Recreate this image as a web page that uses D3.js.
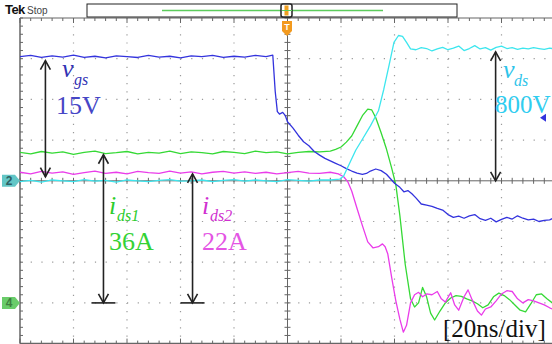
<!DOCTYPE html>
<html>
<head>
<meta charset="utf-8">
<script src="https://d3js.org/d3.v7.min.js"></script>
<style>
  body { margin: 0; background: #fff; }
  svg { display: block; }
</style>
</head>
<body>
<script>
// time in ns (20 ns/div, trigger at 0), level in screen divisions (center = 0)
const preTime = d3.range(-100, 16, 4);   // -100 .. 12
const gateTime = d3.range(-100, -4, 4);  // -100 .. -8

const vgsHigh = [3.05,3.08,3.03,3.07,3.04,3.09,3.03,3.06,3.02,3.07,3.05,3.03,3.08,3.04,3.06,3.02,3.07,3.05,3.08,3.03,3.06,3.04,3.08,3.05];
const vgsFall = [[-5.5,3.09],[-4.6,2.2],[-3.8,1.70],[-3.0,1.64],[-1.8,1.68],[-0.8,1.60],[0,1.45],[2,1.30],[4,1.12],[6,0.96],[8,0.86],[10,0.72],[12,0.63],[14,0.55],[16,0.49],[18,0.43],[20,0.37],[22,0.30],[24,0.24],[26,0.19],[28,0.16],[29.5,0.18],[31,0.24],[33,0.29],[35,0.25],[37,0.16],[38.5,0.05],[40,-0.06],[42,-0.16],[43.5,-0.27],[45,-0.24],[46.5,-0.32],[48,-0.42],[50,-0.57],[52,-0.60],[54,-0.63],[56,-0.68],[58,-0.72],[60,-0.83],[62,-0.90],[64,-0.87],[66,-0.92],[68,-0.86],[70,-0.83],[72,-0.93],[74,-0.97],[76,-0.92],[78,-1.01],[80,-0.95],[82,-0.90],[84,-0.94],[86,-0.86],[88,-0.92],[90,-0.96],[92,-0.94],[94,-1.00],[96,-0.97],[98,-0.96],[100,-0.90]];

const vdsLow = [-0.02,0.01,-0.03,0.02,0.0,-0.02,0.03,-0.01,0.01,-0.03,0.02,0.0,-0.02,0.01,0.03,-0.01,0.0,0.02,-0.02,0.01,0.03,-0.01,0.02,0.0,-0.02,0.03,0.01,-0.01,0.02];
const vdsRise = [[16,0.02],[19.5,0.04],[21,0.12],[23,0.40],[25.5,0.75],[28,1.02],[31,1.35],[34,1.72],[36,2.25],[38,2.85],[39.8,3.40],[41.5,3.57],[43,3.55],[44.5,3.40],[46,3.24],[48,3.22],[50,3.27],[52,3.25],[54,3.19],[56,3.24],[58,3.28],[60,3.22],[62,3.26],[64,3.31],[66,3.20],[68,3.25],[70,3.32],[72,3.24],[74,3.27],[76,3.21],[78,3.28],[80,3.31],[82,3.25],[84,3.27],[86,3.23],[88,3.26],[90,3.24],[92,3.27],[94,3.25],[96,3.23],[98,3.26],[100,3.24]];

const ids1Flat = [0.70,0.66,0.72,0.68,0.71,0.65,0.70,0.73,0.67,0.69,0.72,0.66,0.70,0.68,0.73,0.67,0.71,0.69,0.66,0.72,0.70,0.67,0.73,0.69,0.71,0.66,0.70,0.72,0.71];
const ids1Turn = [[16,0.73],[18,0.77],[20,0.83],[22,0.95],[24,1.10],[26,1.35],[28,1.60],[30,1.76],[31.5,1.74],[33,1.55],[35,1.18],[37,0.78],[39,0.30],[40.5,-0.10],[42,-0.85],[44,-2.05],[46,-2.90],[47.5,-3.10],[49,-3.00],[50.5,-2.62],[52,-2.85],[53.5,-3.25],[55,-3.42],[57,-3.20],[59,-3.00],[61,-2.88],[63,-2.82],[65,-2.84],[67,-2.90],[69,-2.95],[71,-3.02],[73,-3.12],[75,-3.05],[77,-2.85],[79,-2.76],[81,-2.82],[83,-2.92],[85,-3.05],[87,-3.18],[89,-3.22],[91,-3.02],[93,-2.80],[95,-2.78],[97,-2.90],[99,-3.00],[100,-2.98]];

const ids2Flat = [0.21,0.17,0.23,0.19,0.22,0.16,0.20,0.24,0.18,0.21,0.17,0.23,0.20,0.18,0.24,0.19,0.22,0.17,0.21,0.23,0.19,0.22,0.18,0.21,0.17,0.20,0.23,0.19,0.18];
const ids2Turn = [[16,0.21],[19,0.17],[21,0.10],[22.5,-0.02],[24,-0.25],[26,-0.68],[28,-1.10],[30,-1.50],[32,-1.65],[34,-1.62],[35.5,-1.55],[36.5,-1.62],[37.5,-1.80],[39,-2.40],[40.5,-2.95],[42,-3.40],[43.3,-3.72],[44.5,-3.55],[46,-3.00],[47.5,-2.80],[49,-2.74],[50.5,-2.85],[52,-2.78],[54,-2.80],[56,-2.72],[57.5,-2.90],[59,-2.98],[61,-2.75],[62.5,-3.05],[64,-3.18],[66,-2.85],[67.5,-2.68],[69,-2.92],[71,-3.20],[72.5,-3.30],[74,-3.15],[76,-3.10],[78,-2.95],[80,-2.78],[82,-2.70],[84,-2.72],[86,-2.90],[88,-3.00],[90,-2.92],[92,-2.95],[94,-3.00],[96,-3.05],[98,-3.12],[100,-3.18]];

// annotation arrows: [time, fromDiv, toDiv, hasBar]
const arrows = [
  [-90.5, 2.95, 0.10, false],
  [-68.8, 0.64, -3.0, true],
  [-35.5, 0.17, -3.0, true],
  [77.8, 3.17, 0.0, false]
];

const W = 552, H = 344;
const x = d3.scaleLinear().domain([-100, 100]).range([20, 555]);
const y = d3.scaleLinear().domain([-4, 4]).range([343.6, 18]);
const xStep = x(20) - x(0), yStep = y(0) - y(1);

const svg = d3.select('body').append('svg').attr('width', W).attr('height', H);
svg.append('defs').append('clipPath').attr('id', 'plot')
  .append('rect').attr('x', 20).attr('y', 18).attr('width', 535).attr('height', 326);

const grid = svg.append('g');
// dotted graticule
d3.range(-80, 100, 20).filter(t => t !== 0).forEach(t => {
  grid.append('line').attr('x1', x(t)).attr('x2', x(t)).attr('y1', y(4)).attr('y2', y(-4))
    .attr('stroke', '#9a9a9a').attr('stroke-width', 1.2)
    .attr('stroke-dasharray', `1.2,${yStep / 5 - 1.2}`);
});
d3.range(-3, 4).filter(d => d !== 0).forEach(d => {
  grid.append('line').attr('x1', x(-100)).attr('x2', x(100)).attr('y1', y(d)).attr('y2', y(d))
    .attr('stroke', '#9a9a9a').attr('stroke-width', 1.2)
    .attr('stroke-dasharray', `1.2,${xStep / 5 - 1.2}`);
});

// center cross + border, with minor ticks
const axisCol = '#666';
grid.append('line').attr('x1', x(-100)).attr('x2', x(100)).attr('y1', y(0)).attr('y2', y(0)).attr('stroke', axisCol);
grid.append('line').attr('x1', x(0)).attr('x2', x(0)).attr('y1', y(4)).attr('y2', y(-4)).attr('stroke', axisCol);
grid.append('line').attr('x1', x(-100)).attr('x2', x(-100)).attr('y1', y(4)).attr('y2', y(-4)).attr('stroke', axisCol).attr('stroke-width', 1.5);
grid.append('line').attr('x1', x(-100)).attr('x2', x(100)).attr('y1', y(4)).attr('y2', y(4)).attr('stroke', axisCol).attr('stroke-width', 1.2);
grid.append('line').attr('x1', x(-100)).attr('x2', x(100)).attr('y1', y(-4)).attr('y2', y(-4)).attr('stroke', axisCol).attr('stroke-width', 1.5);

d3.range(-100, 101, 4).forEach(t => {
  const major = t % 20 === 0;
  grid.append('line').attr('x1', x(t)).attr('x2', x(t)).attr('y1', y(0) - 3).attr('y2', y(0) + 3).attr('stroke', axisCol);
  grid.append('line').attr('x1', x(t)).attr('x2', x(t)).attr('y1', y(4)).attr('y2', y(4) + (major ? 5 : 3)).attr('stroke', axisCol);
  grid.append('line').attr('x1', x(t)).attr('x2', x(t)).attr('y1', y(-4)).attr('y2', y(-4) - (major ? 5 : 3)).attr('stroke', axisCol);
});
d3.range(-4, 4.01, 0.2).forEach(d => {
  grid.append('line').attr('x1', x(0) - 3).attr('x2', x(0) + 3).attr('y1', y(d)).attr('y2', y(d)).attr('stroke', axisCol);
  grid.append('line').attr('x1', x(-100)).attr('x2', x(-100) + 3).attr('y1', y(d)).attr('y2', y(d)).attr('stroke', axisCol);
});

// traces
const line = d3.line().x(d => x(d[0])).y(d => y(d[1]));
const traces = [
  { data: preTime.map((t, i) => [t, ids1Flat[i]]).concat(ids1Turn), color: '#35d935' },
  { data: preTime.map((t, i) => [t, ids2Flat[i]]).concat(ids2Turn), color: '#ea3cea' },
  { data: gateTime.map((t, i) => [t, vgsHigh[i]]).concat(vgsFall), color: '#3333dd' },
  { data: preTime.map((t, i) => [t, vdsLow[i]]).concat(vdsRise), color: '#3de6ee' }
];
const tg = svg.append('g').attr('clip-path', 'url(#plot)');
traces.forEach(s => {
  tg.append('path').attr('d', line(s.data)).attr('fill', 'none')
    .attr('stroke', s.color).attr('stroke-width', 1.3).attr('stroke-linejoin', 'round');
});

// arrows
const ink = '#222';
const ag = svg.append('g').attr('stroke', ink).attr('stroke-width', 1.6).attr('fill', 'none');
arrows.forEach(([t, a, b, bar]) => {
  const px = x(t), y1 = y(a), y2 = y(b);
  ag.append('line').attr('x1', px).attr('x2', px).attr('y1', y1).attr('y2', y2);
  ag.append('path').attr('d', `M${px - 5},${y1 + 9}L${px},${y1}L${px + 5},${y1 + 9}`);
  ag.append('path').attr('d', `M${px - 5},${y2 - 9}L${px},${y2}L${px + 5},${y2 - 9}`);
  if (bar) ag.append('line').attr('x1', px - 12).attr('x2', px + 12).attr('y1', y2).attr('y2', y2);
});

// labels
const serif = '"Liberation Serif", "Times New Roman", serif';
function label(px, py, txt, size, col, italic) {
  svg.append('text').attr('x', px).attr('y', py).text(txt)
    .attr('font-family', serif).attr('font-size', size).attr('fill', col)
    .attr('font-style', italic ? 'italic' : 'normal');
}
label(62, 77, 'v', 26, '#3232b4', true);
label(74, 85, 'gs', 16, '#3232b4', true);
label(56, 114, '15V', 26, '#4646c6', false);
label(109, 214, 'i', 26, '#2ccc2c', true);
label(117, 221, 'ds1', 16, '#2ccc2c', true);
label(109, 250, '36A', 26, '#34d234', false);
label(202, 214, 'i', 26, '#d030d0', true);
label(210, 221, 'ds2', 16, '#d030d0', true);
label(202, 250, '22A', 26, '#e455e4', false);
label(503, 78, 'v', 26, '#2ec4ea', true);
label(514, 86, 'ds', 16, '#2ec4ea', true);
label(495, 113, '800V', 25, '#30cdf0', false);
label(443, 337, '[20ns/div]', 25, '#111', false);

// scope chrome
svg.append('text').attr('x', 5).attr('y', 14).text('Tek')
  .attr('font-family', '"Liberation Sans", Arial, sans-serif').attr('font-weight', 'bold')
  .attr('font-size', 13).attr('letter-spacing', -0.6).attr('fill', '#111');
svg.append('text').attr('x', 27).attr('y', 14).text('Stop')
  .attr('font-family', '"Liberation Sans Narrow", "Liberation Sans", Arial, sans-serif')
  .attr('font-size', 10).attr('fill', '#444');
svg.append('rect').attr('x', 87).attr('y', 4).attr('width', 370).attr('height', 13)
  .attr('fill', '#fff').attr('stroke', '#222').attr('stroke-width', 1);
svg.append('line').attr('x1', 162).attr('x2', 383).attr('y1', 10.5).attr('y2', 10.5)
  .attr('stroke', '#5ccc5c').attr('stroke-width', 1.6);
svg.append('rect').attr('x', 281).attr('y', 4).attr('width', 11).attr('height', 13).attr('rx', 2)
  .attr('fill', '#fff').attr('stroke', '#222').attr('stroke-width', 1.5);
svg.append('rect').attr('x', 284.5).attr('y', 5.5).attr('width', 4).attr('height', 10).attr('fill', '#f0a020');
svg.append('line').attr('x1', 282).attr('x2', 292).attr('y1', 10.5).attr('y2', 10.5).attr('stroke', '#5ccc5c').attr('stroke-width', 1);
svg.append('path').attr('d', 'M282,21h10v10l-5,5l-5,-5z').attr('fill', '#f39a1e');
svg.append('text').attr('x', 287).attr('y', 30).attr('text-anchor', 'middle').text('T')
  .attr('font-family', '"Liberation Sans", Arial, sans-serif').attr('font-weight', 'bold')
  .attr('font-size', 9).attr('fill', '#fff');

// channel markers
function chMarker(py, txt, fill, ink) {
  svg.append('path').attr('d', `M2,${py - 6}h13l5,6l-5,6h-13z`).attr('fill', fill);
  svg.append('text').attr('x', 9).attr('y', py + 4.5).attr('text-anchor', 'middle').text(txt)
    .attr('font-family', '"Liberation Sans", Arial, sans-serif').attr('font-weight', 'bold')
    .attr('font-size', 12).attr('fill', ink);
}
chMarker(y(0), '2', '#62c6c6', '#2e5e62');
chMarker(y(-3), '4', '#6acc6a', '#3f7f3f');
svg.append('path').attr('d', `M540,${y(1.55)}l6,-4v8z`).attr('fill', '#3333dd');
</script>
</body>
</html>
